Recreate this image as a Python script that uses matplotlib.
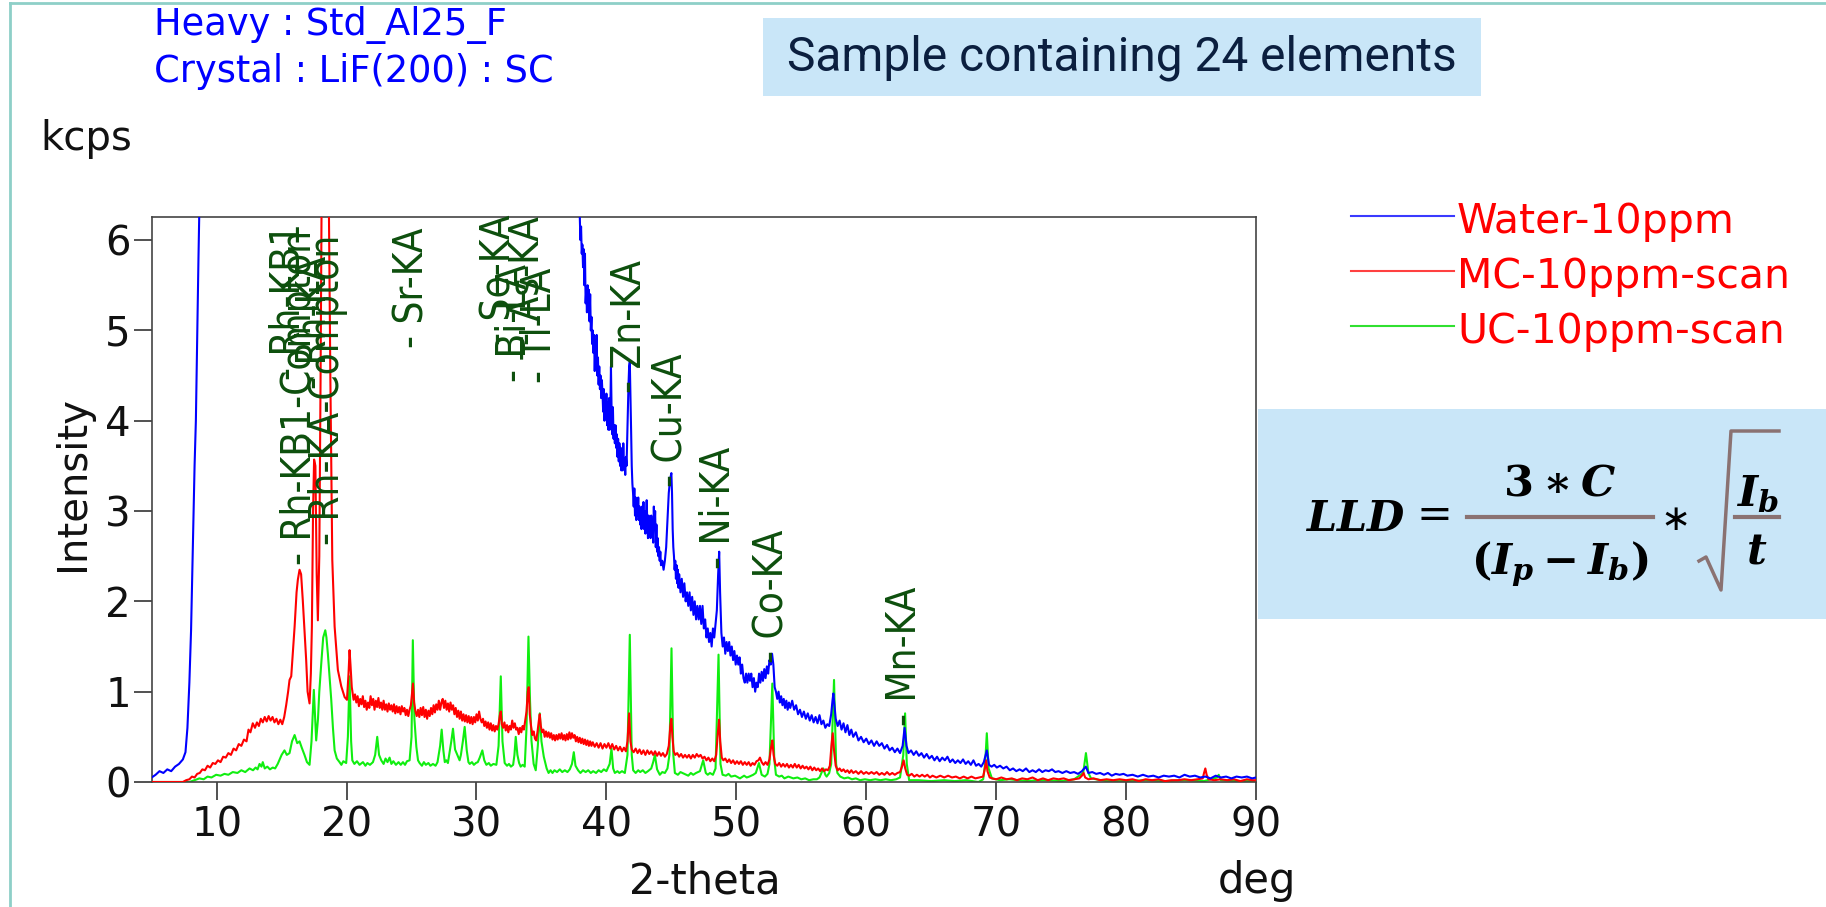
import matplotlib
matplotlib.use("Agg")
import matplotlib.pyplot as plt
from matplotlib.lines import Line2D
from matplotlib.patches import Rectangle

# ---------------- data (2-theta in deg, intensity in kcps) ----------------
series_names = ["Water-10ppm", "MC-10ppm-scan", "UC-10ppm-scan"]

blue_pts = [
    (5.0, 0.05), (5.3, 0.08), (5.6, 0.12), (5.9, 0.10), (6.2, 0.14), (6.5, 0.12), (6.8, 0.17), (7.1, 0.20),
    (7.4, 0.25), (7.6, 0.33), (7.75, 0.60), (7.9, 1.10), (8.03, 1.68), (8.15, 2.50), (8.3, 3.50), (8.4, 4.00),
    (8.5, 4.90), (8.6, 5.80), (8.7, 6.60), (8.9, 8.0), (12.0, 9.0), (30.0, 9.0), (37.5, 7.0),
    (37.95, 6.26), (38.0, 6.0), (38.05, 6.15), (38.1, 5.85), (38.15, 5.95), (38.2, 5.7), (38.25, 5.9),
    (38.3, 5.5), (38.35, 5.85), (38.4, 5.3), (38.45, 5.45), (38.5, 5.2), (38.55, 5.5), (38.6, 5.35),
    (38.65, 5.45), (38.7, 5.1), (38.75, 5.4), (38.8, 5.0), (38.85, 5.15), (38.9, 4.85), (38.95, 5.0),
    (39.0, 4.75), (39.05, 4.95), (39.1, 4.55), (39.15, 4.85), (39.2, 4.7), (39.25, 4.95), (39.3, 4.5),
    (39.35, 4.7), (39.4, 4.4), (39.45, 4.6), (39.5, 4.35), (39.55, 4.5), (39.6, 4.25), (39.65, 4.45),
    (39.7, 4.3), (39.75, 4.1), (39.8, 4.35), (39.85, 4.0), (39.9, 4.2), (39.95, 4.05), (40.0, 4.3),
    (40.05, 3.95), (40.1, 4.2), (40.15, 3.9), (40.2, 4.25), (40.25, 3.9), (40.3, 4.1), (40.35, 4.6),
    (40.4, 4.1), (40.45, 3.85), (40.5, 4.15), (40.55, 3.8), (40.6, 3.95), (40.65, 3.75), (40.7, 3.95),
    (40.75, 3.7), (40.8, 3.85), (40.85, 3.6), (40.9, 3.8), (40.95, 3.55), (41.0, 3.75), (41.05, 3.5),
    (41.1, 3.7), (41.15, 3.45), (41.2, 3.6), (41.25, 3.45), (41.3, 3.75), (41.35, 3.5), (41.4, 3.55),
    (41.45, 3.4), (41.5, 3.6), (41.55, 3.5), (41.6, 3.8), (41.65, 4.1), (41.7, 4.4), (41.75, 4.6),
    (41.8, 4.65), (41.85, 4.3), (41.9, 3.9), (41.95, 3.5), (42.0, 3.3), (42.05, 3.2), (42.1, 3.05),
    (42.15, 3.25), (42.2, 2.95), (42.25, 3.15), (42.3, 2.9), (42.35, 3.1), (42.4, 2.95), (42.45, 3.15),
    (42.5, 2.9), (42.55, 3.05), (42.6, 2.85), (42.65, 3.0), (42.7, 2.8), (42.75, 3.05), (42.8, 2.85),
    (42.85, 3.1), (42.9, 2.8), (42.95, 3.0), (43.0, 2.75), (43.05, 2.95), (43.1, 3.12), (43.15, 2.85),
    (43.2, 2.7), (43.25, 2.95), (43.3, 2.75), (43.35, 2.9), (43.4, 2.7), (43.45, 2.95), (43.5, 2.75),
    (43.55, 2.9), (43.6, 2.65), (43.65, 3.05), (43.7, 2.8), (43.75, 3.0), (43.8, 2.6), (43.85, 2.85),
    (43.9, 2.55), (43.95, 2.7), (44.0, 2.5), (44.05, 2.6), (44.1, 2.45), (44.15, 2.55), (44.2, 2.4),
    (44.3, 2.45), (44.4, 2.35), (44.5, 2.45), (44.6, 2.6), (44.7, 2.9), (44.8, 3.2), (44.9, 3.35),
    (45.0, 3.42), (45.05, 3.2), (45.1, 2.8), (45.15, 2.6), (45.2, 2.5), (45.25, 2.35), (45.3, 2.45),
    (45.35, 2.25), (45.4, 2.4), (45.45, 2.2), (45.5, 2.35), (45.55, 2.15), (45.6, 2.3), (45.7, 2.1),
    (45.8, 2.25), (45.9, 2.05), (46.0, 2.2), (46.1, 2.0), (46.2, 2.1), (46.3, 1.95), (46.4, 2.1),
    (46.5, 1.9), (46.6, 2.05), (46.7, 1.85), (46.8, 2.0), (46.9, 1.8), (47.0, 1.95), (47.1, 1.8),
    (47.2, 1.95), (47.3, 1.75), (47.4, 1.95), (47.5, 1.7), (47.6, 1.8), (47.7, 1.6), (47.8, 1.7),
    (47.9, 1.55), (48.0, 1.65), (48.1, 1.5), (48.2, 1.7), (48.3, 1.6), (48.4, 1.75), (48.5, 1.9),
    (48.6, 2.3), (48.68, 2.55), (48.75, 2.1), (48.85, 1.65), (48.95, 1.5), (49.05, 1.6), (49.15, 1.42),
    (49.25, 1.55), (49.35, 1.45), (49.45, 1.55), (49.55, 1.4), (49.65, 1.5), (49.75, 1.35), (49.85, 1.45),
    (49.95, 1.3), (50.05, 1.4), (50.15, 1.3), (50.25, 1.38), (50.35, 1.2), (50.45, 1.3), (50.55, 1.15),
    (50.65, 1.1), (50.75, 1.2), (50.85, 1.1), (50.95, 1.2), (51.05, 1.12), (51.15, 1.2), (51.25, 1.05),
    (51.35, 1.15), (51.45, 1.0), (51.55, 1.1), (51.65, 1.05), (51.75, 1.2), (51.85, 1.1), (51.95, 1.22),
    (52.05, 1.12), (52.15, 1.25), (52.25, 1.15), (52.35, 1.28), (52.45, 1.2), (52.55, 1.35), (52.65, 1.3),
    (52.75, 1.42), (52.85, 1.3), (52.95, 1.05), (53.05, 1.0), (53.15, 0.92), (53.25, 1.0), (53.35, 0.88),
    (53.45, 0.95), (53.55, 0.85), (53.65, 0.92), (53.75, 0.82), (53.85, 0.9), (53.95, 0.8), (54.05, 0.88),
    (54.15, 0.82), (54.3, 0.9), (54.45, 0.8), (54.6, 0.85), (54.75, 0.75), (54.9, 0.8), (55.05, 0.72),
    (55.2, 0.78), (55.35, 0.7), (55.5, 0.76), (55.65, 0.68), (55.8, 0.74), (55.95, 0.66), (56.1, 0.72),
    (56.25, 0.65), (56.4, 0.74), (56.55, 0.64), (56.7, 0.68), (56.85, 0.6), (57.0, 0.64), (57.15, 0.62),
    (57.3, 0.75), (57.4, 0.9), (57.47, 0.98), (57.55, 0.85), (57.65, 0.7), (57.8, 0.62), (57.95, 0.68),
    (58.1, 0.58), (58.25, 0.65), (58.4, 0.55), (58.55, 0.63), (58.7, 0.52), (58.85, 0.58), (59.0, 0.5),
    (59.2, 0.55), (59.4, 0.46), (59.6, 0.5), (59.8, 0.44), (60.0, 0.48), (60.2, 0.42), (60.4, 0.46),
    (60.6, 0.4), (60.8, 0.45), (61.0, 0.4), (61.2, 0.43), (61.4, 0.37), (61.6, 0.41), (61.8, 0.35),
    (62.0, 0.38), (62.2, 0.33), (62.4, 0.37), (62.6, 0.32), (62.8, 0.4), (62.95, 0.6), (63.1, 0.4),
    (63.25, 0.32), (63.45, 0.35), (63.65, 0.3), (63.85, 0.34), (64.05, 0.29), (64.25, 0.32), (64.45, 0.27),
    (64.65, 0.31), (64.85, 0.26), (65.05, 0.29), (65.25, 0.24), (65.45, 0.28), (65.65, 0.23), (65.85, 0.27),
    (66.05, 0.24), (66.25, 0.28), (66.45, 0.22), (66.65, 0.25), (66.85, 0.21), (67.05, 0.24), (67.25, 0.21),
    (67.45, 0.25), (67.65, 0.2), (67.85, 0.23), (68.05, 0.19), (68.25, 0.24), (68.45, 0.18), (68.65, 0.2),
    (68.85, 0.17), (69.05, 0.22), (69.28, 0.35), (69.45, 0.19), (69.65, 0.17), (69.85, 0.19), (70.05, 0.16),
    (70.3, 0.18), (70.55, 0.15), (70.8, 0.17), (71.05, 0.13), (71.3, 0.15), (71.55, 0.12), (71.8, 0.14),
    (72.05, 0.12), (72.3, 0.15), (72.55, 0.11), (72.8, 0.13), (73.05, 0.11), (73.3, 0.14), (73.55, 0.11),
    (73.8, 0.13), (74.05, 0.12), (74.3, 0.14), (74.55, 0.11), (74.8, 0.12), (75.1, 0.1), (75.4, 0.12),
    (75.7, 0.1), (76.0, 0.11), (76.3, 0.09), (76.6, 0.12), (76.9, 0.17), (77.1, 0.1), (77.4, 0.11),
    (77.7, 0.09), (78.0, 0.1), (78.3, 0.08), (78.6, 0.1), (78.9, 0.07), (79.2, 0.09), (79.5, 0.08),
    (79.8, 0.09), (80.1, 0.07), (80.5, 0.08), (80.9, 0.06), (81.3, 0.08), (81.7, 0.06), (82.1, 0.07),
    (82.5, 0.05), (82.9, 0.07), (83.3, 0.06), (83.7, 0.07), (84.1, 0.05), (84.5, 0.08), (84.9, 0.06),
    (85.3, 0.07), (85.7, 0.05), (86.1, 0.06), (86.5, 0.04), (86.9, 0.07), (87.3, 0.05), (87.7, 0.06),
    (88.1, 0.04), (88.5, 0.06), (88.9, 0.05), (89.3, 0.06), (89.7, 0.04), (90.0, 0.05)]

red_pts = [
    (5.0, 0.0), (7.4, 0.0), (7.65, 0.02), (7.9, 0.03), (8.1, 0.06), (8.3, 0.05), (8.5, 0.09), (8.7, 0.10),
    (8.9, 0.14), (9.1, 0.13), (9.3, 0.18), (9.5, 0.16), (9.7, 0.21), (9.9, 0.20), (10.1, 0.24), (10.3, 0.22),
    (10.5, 0.28), (10.7, 0.27), (10.9, 0.32), (11.1, 0.30), (11.3, 0.37), (11.5, 0.35), (11.7, 0.42),
    (11.9, 0.40), (12.1, 0.47), (12.3, 0.45), (12.45, 0.58), (12.6, 0.55), (12.78, 0.65), (12.95, 0.60),
    (13.1, 0.66), (13.25, 0.62), (13.4, 0.70), (13.55, 0.66), (13.7, 0.72), (13.85, 0.67), (14.0, 0.73),
    (14.15, 0.68), (14.3, 0.72), (14.45, 0.66), (14.6, 0.70), (14.75, 0.64), (14.9, 0.69), (15.05, 0.64),
    (15.2, 0.72), (15.35, 0.85), (15.5, 1.0), (15.61, 1.13), (15.74, 1.17), (15.9, 1.5), (16.0, 1.72),
    (16.15, 2.1), (16.25, 2.24), (16.38, 2.35), (16.5, 2.3), (16.63, 2.01), (16.75, 1.7), (16.89, 1.35),
    (17.0, 1.0), (17.15, 0.87), (17.25, 1.2), (17.33, 1.72), (17.42, 3.0), (17.5, 3.57), (17.6, 3.5),
    (17.7, 2.3), (17.79, 1.79), (17.9, 2.5), (18.0, 4.5), (18.1, 7.0), (18.6, 7.0), (18.75, 4.5),
    (18.9, 2.46), (19.08, 1.72), (19.33, 1.24), (19.59, 1.06), (19.85, 0.94), (20.03, 0.91), (20.15, 1.2),
    (20.23, 1.46), (20.3, 1.3), (20.4, 1.05), (20.54, 0.91), (20.65, 0.97), (20.75, 0.88), (20.85, 0.95),
    (20.95, 0.84), (21.05, 0.92), (21.15, 0.86), (21.25, 0.95), (21.35, 0.83), (21.45, 0.9), (21.55, 0.8),
    (21.65, 0.88), (21.75, 0.82), (21.85, 0.95), (21.95, 0.85), (22.05, 0.92), (22.15, 0.8), (22.25, 0.9),
    (22.35, 0.83), (22.45, 0.93), (22.55, 0.82), (22.65, 0.88), (22.75, 0.8), (22.85, 0.9), (22.95, 0.8),
    (23.05, 0.86), (23.15, 0.78), (23.25, 0.87), (23.35, 0.8), (23.45, 0.85), (23.55, 0.78), (23.65, 0.86),
    (23.75, 0.76), (23.85, 0.84), (23.95, 0.77), (24.05, 0.83), (24.15, 0.75), (24.25, 0.84), (24.35, 0.78),
    (24.45, 0.82), (24.55, 0.74), (24.65, 0.8), (24.75, 0.73), (24.85, 0.8), (24.95, 0.85), (25.05, 1.0),
    (25.11, 1.09), (25.2, 0.88), (25.3, 0.78), (25.4, 0.73), (25.5, 0.8), (25.6, 0.72), (25.7, 0.82),
    (25.8, 0.74), (25.9, 0.83), (26.0, 0.72), (26.1, 0.8), (26.2, 0.7), (26.3, 0.79), (26.4, 0.73),
    (26.5, 0.82), (26.6, 0.75), (26.7, 0.85), (26.8, 0.77), (26.9, 0.86), (27.0, 0.8), (27.1, 0.9),
    (27.2, 0.8), (27.3, 0.88), (27.4, 0.92), (27.5, 0.82), (27.6, 0.9), (27.7, 0.8), (27.8, 0.87),
    (27.9, 0.78), (28.0, 0.88), (28.1, 0.8), (28.2, 0.85), (28.3, 0.75), (28.4, 0.82), (28.5, 0.72),
    (28.6, 0.79), (28.7, 0.7), (28.8, 0.78), (28.9, 0.68), (29.0, 0.75), (29.1, 0.67), (29.2, 0.74),
    (29.3, 0.66), (29.4, 0.73), (29.5, 0.65), (29.6, 0.72), (29.7, 0.64), (29.8, 0.72), (29.9, 0.66),
    (30.0, 0.75), (30.1, 0.68), (30.2, 0.78), (30.3, 0.7), (30.4, 0.66), (30.5, 0.7), (30.6, 0.62),
    (30.7, 0.67), (30.8, 0.6), (30.9, 0.66), (31.0, 0.58), (31.1, 0.65), (31.2, 0.57), (31.3, 0.63),
    (31.4, 0.56), (31.5, 0.62), (31.6, 0.58), (31.7, 0.64), (31.8, 0.74), (31.87, 0.78), (31.95, 0.64),
    (32.05, 0.6), (32.15, 0.66), (32.25, 0.57), (32.35, 0.63), (32.45, 0.55), (32.55, 0.62), (32.65, 0.58),
    (32.75, 0.68), (32.85, 0.6), (32.95, 0.65), (33.05, 0.58), (33.15, 0.6), (33.25, 0.53), (33.35, 0.6),
    (33.45, 0.55), (33.55, 0.62), (33.65, 0.58), (33.75, 0.68), (33.85, 0.78), (33.95, 1.0), (34.02, 1.05),
    (34.1, 0.75), (34.2, 0.62), (34.3, 0.52), (34.4, 0.56), (34.5, 0.48), (34.6, 0.46), (34.7, 0.56),
    (34.8, 0.68), (34.87, 0.75), (34.95, 0.62), (35.05, 0.55), (35.15, 0.58), (35.25, 0.5), (35.35, 0.56),
    (35.45, 0.5), (35.55, 0.55), (35.65, 0.49), (35.75, 0.54), (35.85, 0.47), (35.95, 0.52), (36.05, 0.46),
    (36.15, 0.52), (36.25, 0.47), (36.35, 0.53), (36.45, 0.48), (36.55, 0.54), (36.65, 0.47), (36.75, 0.52),
    (36.85, 0.46), (36.95, 0.53), (37.05, 0.47), (37.15, 0.55), (37.25, 0.48), (37.35, 0.54), (37.45, 0.49),
    (37.55, 0.52), (37.65, 0.45), (37.75, 0.5), (37.85, 0.44), (37.95, 0.49), (38.05, 0.43), (38.15, 0.48),
    (38.25, 0.42), (38.35, 0.47), (38.45, 0.41), (38.55, 0.46), (38.65, 0.4), (38.75, 0.45), (38.85, 0.4),
    (38.95, 0.44), (39.1, 0.39), (39.25, 0.43), (39.4, 0.38), (39.55, 0.43), (39.7, 0.37), (39.85, 0.42),
    (40.0, 0.38), (40.15, 0.43), (40.3, 0.37), (40.45, 0.42), (40.6, 0.36), (40.75, 0.4), (40.9, 0.35),
    (41.05, 0.39), (41.2, 0.34), (41.35, 0.38), (41.5, 0.34), (41.62, 0.45), (41.75, 0.76), (41.85, 0.45),
    (41.95, 0.36), (42.1, 0.33), (42.25, 0.37), (42.4, 0.32), (42.55, 0.36), (42.7, 0.31), (42.85, 0.35),
    (43.0, 0.3), (43.15, 0.35), (43.3, 0.31), (43.45, 0.34), (43.6, 0.3), (43.75, 0.34), (43.9, 0.29),
    (44.05, 0.33), (44.2, 0.29), (44.35, 0.32), (44.5, 0.28), (44.65, 0.31), (44.8, 0.4), (44.92, 0.62),
    (45.0, 0.7), (45.08, 0.5), (45.18, 0.34), (45.3, 0.3), (45.45, 0.32), (45.6, 0.28), (45.75, 0.31),
    (45.9, 0.27), (46.05, 0.3), (46.2, 0.27), (46.35, 0.3), (46.5, 0.26), (46.65, 0.3), (46.8, 0.27),
    (46.95, 0.31), (47.1, 0.28), (47.25, 0.3), (47.4, 0.26), (47.55, 0.28), (47.7, 0.24), (47.85, 0.27),
    (48.0, 0.23), (48.15, 0.26), (48.3, 0.23), (48.45, 0.3), (48.58, 0.55), (48.67, 0.69), (48.76, 0.45),
    (48.88, 0.27), (49.0, 0.24), (49.15, 0.26), (49.3, 0.22), (49.45, 0.25), (49.6, 0.21), (49.75, 0.24),
    (49.9, 0.2), (50.05, 0.23), (50.2, 0.2), (50.35, 0.23), (50.5, 0.19), (50.65, 0.22), (50.8, 0.19),
    (50.95, 0.22), (51.1, 0.18), (51.25, 0.21), (51.4, 0.19), (51.55, 0.23), (51.7, 0.24), (51.82, 0.27),
    (51.95, 0.22), (52.1, 0.19), (52.25, 0.22), (52.4, 0.19), (52.55, 0.25), (52.67, 0.38), (52.77, 0.46),
    (52.87, 0.3), (53.0, 0.2), (53.15, 0.18), (53.3, 0.21), (53.45, 0.17), (53.6, 0.2), (53.75, 0.17),
    (53.9, 0.2), (54.05, 0.16), (54.2, 0.19), (54.35, 0.16), (54.5, 0.2), (54.65, 0.16), (54.8, 0.19),
    (54.95, 0.15), (55.1, 0.18), (55.25, 0.15), (55.4, 0.17), (55.55, 0.14), (55.7, 0.17), (55.85, 0.13),
    (56.0, 0.16), (56.15, 0.13), (56.3, 0.15), (56.45, 0.12), (56.6, 0.15), (56.75, 0.12), (56.9, 0.14),
    (57.05, 0.13), (57.2, 0.18), (57.32, 0.4), (57.42, 0.54), (57.52, 0.35), (57.65, 0.18), (57.8, 0.13),
    (57.95, 0.15), (58.1, 0.12), (58.25, 0.14), (58.4, 0.11), (58.55, 0.13), (58.7, 0.1), (58.85, 0.13),
    (59.0, 0.1), (59.2, 0.12), (59.4, 0.09), (59.6, 0.12), (59.8, 0.09), (60.0, 0.11), (60.2, 0.09),
    (60.4, 0.11), (60.6, 0.09), (60.8, 0.11), (61.0, 0.08), (61.2, 0.1), (61.4, 0.08), (61.6, 0.11),
    (61.8, 0.08), (62.0, 0.1), (62.2, 0.08), (62.4, 0.1), (62.6, 0.11), (62.75, 0.17), (62.88, 0.24),
    (63.0, 0.15), (63.15, 0.08), (63.3, 0.07), (63.5, 0.09), (63.7, 0.06), (63.9, 0.08), (64.1, 0.06),
    (64.3, 0.08), (64.5, 0.06), (64.7, 0.08), (64.9, 0.05), (65.1, 0.07), (65.4, 0.05), (65.7, 0.07),
    (66.0, 0.05), (66.3, 0.07), (66.6, 0.05), (66.9, 0.06), (67.2, 0.04), (67.5, 0.06), (67.8, 0.04),
    (68.1, 0.06), (68.4, 0.04), (68.7, 0.05), (69.0, 0.06), (69.13, 0.15), (69.23, 0.24), (69.33, 0.12),
    (69.5, 0.05), (69.7, 0.04), (70.0, 0.03), (70.4, 0.05), (70.8, 0.03), (71.2, 0.04), (71.6, 0.02),
    (72.0, 0.04), (72.4, 0.03), (72.8, 0.05), (73.2, 0.02), (73.6, 0.04), (74.0, 0.02), (74.4, 0.04),
    (74.8, 0.03), (75.2, 0.04), (75.6, 0.02), (76.0, 0.03), (76.4, 0.04), (76.6, 0.07), (76.73, 0.1),
    (76.85, 0.05), (77.1, 0.03), (77.5, 0.04), (78.0, 0.02), (78.5, 0.03), (79.0, 0.02), (79.5, 0.03),
    (80.0, 0.02), (80.5, 0.03), (81.0, 0.01), (81.5, 0.03), (82.0, 0.02), (82.5, 0.03), (83.0, 0.01),
    (83.5, 0.02), (84.0, 0.02), (84.5, 0.03), (85.0, 0.02), (85.5, 0.03), (85.9, 0.04), (86.0, 0.1),
    (86.1, 0.15), (86.2, 0.08), (86.35, 0.03), (86.8, 0.02), (87.3, 0.03), (87.8, 0.02), (88.3, 0.03),
    (88.8, 0.01), (89.3, 0.03), (89.7, 0.02), (90.0, 0.02)]

green_pts = [
    (5.0, 0.0), (7.9, 0.0), (8.3, 0.02), (8.67, 0.04), (9.0, 0.03), (9.3, 0.06), (9.6, 0.05), (9.96, 0.08),
    (10.3, 0.07), (10.6, 0.09), (10.9, 0.08), (11.24, 0.11), (11.6, 0.10), (11.9, 0.13), (12.2, 0.11),
    (12.53, 0.15), (12.8, 0.13), (13.0, 0.16), (13.15, 0.14), (13.3, 0.20), (13.45, 0.17), (13.55, 0.22),
    (13.7, 0.15), (13.9, 0.17), (14.1, 0.14), (14.32, 0.16), (14.5, 0.15), (14.7, 0.20), (14.85, 0.25),
    (15.0, 0.30), (15.22, 0.35), (15.4, 0.30), (15.61, 0.32), (15.8, 0.45), (16.0, 0.52), (16.2, 0.43),
    (16.38, 0.45), (16.55, 0.38), (16.76, 0.30), (16.95, 0.22), (17.15, 0.19), (17.3, 0.45), (17.48, 1.02),
    (17.58, 0.70), (17.66, 0.46), (17.8, 0.70), (17.9, 1.0), (18.05, 1.31), (18.2, 1.60), (18.36, 1.68),
    (18.45, 1.60), (18.56, 1.42), (18.7, 1.15), (18.82, 0.91), (18.95, 0.60), (19.08, 0.35), (19.25, 0.26),
    (19.46, 0.22), (19.6, 0.19), (19.75, 0.23), (19.97, 0.21), (20.1, 0.50), (20.23, 1.17), (20.35, 0.45),
    (20.44, 0.24), (20.6, 0.20), (20.8, 0.23), (21.0, 0.19), (21.26, 0.22), (21.45, 0.18), (21.6, 0.21),
    (21.8, 0.19), (22.03, 0.22), (22.2, 0.30), (22.36, 0.50), (22.5, 0.30), (22.67, 0.24), (22.85, 0.20),
    (23.0, 0.26), (23.15, 0.22), (23.31, 0.27), (23.45, 0.20), (23.6, 0.23), (23.8, 0.19), (24.0, 0.22),
    (24.17, 0.19), (24.34, 0.22), (24.5, 0.19), (24.65, 0.23), (24.85, 0.24), (25.0, 0.50), (25.1, 1.57),
    (25.22, 0.70), (25.37, 0.39), (25.5, 0.24), (25.62, 0.21), (25.8, 0.18), (25.95, 0.22), (26.1, 0.19),
    (26.3, 0.21), (26.45, 0.18), (26.65, 0.20), (26.85, 0.18), (27.0, 0.22), (27.2, 0.40), (27.32, 0.58),
    (27.45, 0.35), (27.56, 0.22), (27.68, 0.24), (27.8, 0.21), (27.9, 0.30), (28.06, 0.45), (28.19, 0.59),
    (28.35, 0.36), (28.58, 0.28), (28.7, 0.24), (28.8, 0.30), (28.95, 0.45), (29.09, 0.61), (29.25, 0.35),
    (29.38, 0.22), (29.48, 0.20), (29.65, 0.22), (29.8, 0.19), (29.95, 0.21), (30.1, 0.22), (30.25, 0.27),
    (30.45, 0.35), (30.6, 0.24), (30.76, 0.19), (30.95, 0.21), (31.1, 0.18), (31.3, 0.20), (31.53, 0.19),
    (31.7, 0.40), (31.87, 1.17), (32.0, 0.45), (32.17, 0.21), (32.35, 0.18), (32.5, 0.20), (32.65, 0.17),
    (32.82, 0.19), (32.92, 0.30), (33.02, 0.50), (33.15, 0.30), (33.28, 0.21), (33.4, 0.17), (33.55, 0.19),
    (33.71, 0.17), (33.85, 0.60), (34.0, 1.61), (34.12, 0.90), (34.23, 0.46), (34.4, 0.20), (34.56, 0.13),
    (34.72, 0.40), (34.87, 0.76), (35.0, 0.45), (35.18, 0.28), (35.4, 0.15), (35.55, 0.10), (35.7, 0.13),
    (35.85, 0.10), (36.0, 0.13), (36.2, 0.11), (36.41, 0.14), (36.6, 0.11), (36.8, 0.13), (37.0, 0.11),
    (37.18, 0.14), (37.35, 0.20), (37.49, 0.33), (37.62, 0.18), (37.82, 0.13), (38.0, 0.10), (38.2, 0.13),
    (38.4, 0.11), (38.6, 0.13), (38.8, 0.10), (38.98, 0.12), (39.2, 0.10), (39.4, 0.13), (39.6, 0.11),
    (39.8, 0.14), (40.0, 0.12), (40.25, 0.20), (40.39, 0.37), (40.52, 0.15), (40.65, 0.10), (40.85, 0.12),
    (41.0, 0.10), (41.2, 0.12), (41.42, 0.10), (41.62, 0.30), (41.8, 1.63), (41.95, 0.30), (42.06, 0.13),
    (42.25, 0.10), (42.45, 0.13), (42.6, 0.11), (42.8, 0.13), (43.0, 0.10), (43.2, 0.12), (43.45, 0.15),
    (43.6, 0.22), (43.73, 0.30), (43.9, 0.14), (44.11, 0.08), (44.3, 0.11), (44.5, 0.10), (44.7, 0.15),
    (44.85, 0.30), (45.01, 1.48), (45.15, 0.30), (45.27, 0.10), (45.5, 0.08), (45.7, 0.11), (46.0, 0.09),
    (46.3, 0.07), (46.5, 0.10), (46.68, 0.08), (46.9, 0.10), (47.2, 0.12), (47.45, 0.24), (47.65, 0.10),
    (47.8, 0.08), (47.97, 0.10), (48.2, 0.08), (48.4, 0.15), (48.63, 1.41), (48.78, 0.20), (48.94, 0.08),
    (49.2, 0.07), (49.4, 0.09), (49.6, 0.06), (49.9, 0.07), (50.28, 0.04), (50.6, 0.07), (50.8, 0.05),
    (51.0, 0.06), (51.3, 0.08), (51.5, 0.10), (51.74, 0.21), (51.95, 0.08), (52.2, 0.06), (52.4, 0.09),
    (52.55, 0.20), (52.77, 1.09), (52.92, 0.25), (53.05, 0.08), (53.3, 0.06), (53.5, 0.07), (53.7, 0.04),
    (54.0, 0.06), (54.39, 0.04), (54.7, 0.05), (55.0, 0.03), (55.3, 0.04), (55.6, 0.02), (55.93, 0.03),
    (56.2, 0.03), (56.4, 0.05), (56.55, 0.10), (56.7, 0.15), (56.85, 0.08), (56.95, 0.06), (57.15, 0.10),
    (57.3, 0.20), (57.52, 1.13), (57.68, 0.20), (57.78, 0.10), (58.0, 0.06), (58.3, 0.04), (58.6, 0.05),
    (58.9, 0.03), (59.2, 0.04), (59.52, 0.02), (59.9, 0.03), (60.3, 0.02), (60.7, 0.03), (61.1, 0.02),
    (61.5, 0.03), (61.9, 0.02), (62.3, 0.03), (62.6, 0.05), (62.85, 0.30), (62.99, 0.76), (63.12, 0.20),
    (63.3, 0.02), (64.0, 0.02), (65.0, 0.01), (66.0, 0.02), (66.8, 0.01), (67.7, 0.02), (68.64, 0.0),
    (69.0, 0.03), (69.15, 0.20), (69.28, 0.54), (69.42, 0.15), (69.67, 0.04), (70.3, 0.02), (71.0, 0.03),
    (72.4, 0.01), (73.2, 0.02), (74.0, 0.02), (75.0, 0.01), (76.0, 0.03), (76.7, 0.10), (76.91, 0.32),
    (77.1, 0.10), (77.3, 0.04), (78.5, 0.01), (80.0, 0.01), (81.5, 0.02), (83.0, 0.01), (84.5, 0.02),
    (86.0, 0.01), (87.0, 0.05), (87.13, 0.08), (87.3, 0.02), (88.5, 0.01), (90.0, 0.01)]

blue_x, blue_y = zip(*blue_pts)
red_x, red_y = zip(*red_pts)
green_x, green_y = zip(*green_pts)

peak_labels = ["Rh-KB1", "Rh-KB1-Compton", "Rh-KA", "Rh-KA-Compton", "Sr-KA", "Se-KA", "Bi-LA",
               "As-KA", "Tl-LA", "Zn-KA", "Cu-KA", "Ni-KA", "Co-KA", "Mn-KA"]
peak_x = [15.55, 16.45, 17.55, 18.55, 25.1, 31.8, 33.0, 33.95, 34.9, 41.8, 45.0, 48.65, 52.8, 62.95]
peak_label_y = [4.45, 2.40, 4.35, 2.62, 4.80, 4.84, 4.43, 4.84, 4.42, 4.31, 3.27, 2.36, 1.32, 0.62]

x_ticks = [10, 20, 30, 40, 50, 60, 70, 80, 90]
y_ticks = [0, 1, 2, 3, 4, 5, 6]

# ---------------- figure ----------------
W, H = 1826, 907
fig = plt.figure(figsize=(W / 100, H / 100), dpi=100)


def fx(px):
    return px / W


def fy(py):
    return 1 - py / H


ax_l, ax_r, ax_t, ax_b = 151.7, 1256.0, 216.6, 782.0
ax = fig.add_axes([fx(ax_l), fy(ax_b), (ax_r - ax_l) / W, (ax_b - ax_t) / H])

ax.plot(green_x, green_y, color="#10ee10", lw=1.5, zorder=2)
ax.plot(red_x, red_y, color="#ff0000", lw=1.5, zorder=3)
ax.plot(blue_x, blue_y, color="#0000ff", lw=1.5, zorder=4)

ax.set_xlim(5, 90)
ax.set_ylim(0, 6.26)
ax.set_xticks(x_ticks)
ax.set_yticks(y_ticks)
for lab in ax.get_xticklabels() + ax.get_yticklabels():
    lab.set_fontfamily("DejaVu Sans")
ax.tick_params(axis="both", direction="out", length=13, width=1.2, colors="#333333",
               labelsize=29, labelcolor="#111111")
ax.tick_params(axis="y", pad=2)
ax.tick_params(axis="x", pad=4)
for s in ax.spines.values():
    s.set_color("#444444")
    s.set_linewidth(1.2)

lab_color = "#0d4f0d"
for name, px, py in zip(peak_labels, peak_x, peak_label_y):
    ax.text(px, py, "- " + name, rotation=90, ha="center", va="bottom", fontsize=29,
            color=lab_color, family="DejaVu Sans", fontstretch="condensed", zorder=5)

# axis labels
txt_c = "#111111"
fig.text(fx(73), fy(483), "Intensity", rotation=90, ha="center", va="center",
         fontsize=29, color=txt_c, family="DejaVu Sans")
fig.text(fx(40), fy(150), "kcps", ha="left", va="baseline", fontsize=29, color=txt_c,
         family="DejaVu Sans")
fig.text(fx(705), fy(893), "2-theta", ha="center", va="baseline", fontsize=30, color=txt_c,
         family="DejaVu Sans")
fig.text(fx(1257), fy(893), "deg", ha="center", va="baseline", fontsize=30, color=txt_c,
         family="DejaVu Sans")

# header
fig.text(fx(154), fy(35), "Heavy : Std_Al25_F", ha="left", va="baseline", fontsize=26.5,
         color="#0000ff", family="DejaVu Sans")
fig.text(fx(154), fy(82), "Crystal : LiF(200) : SC", ha="left", va="baseline", fontsize=26.5,
         color="#0000ff", family="DejaVu Sans")

# title box
fig.patches.append(Rectangle((fx(763), fy(96)), (1481 - 763) / W, (96 - 18) / H,
                             transform=fig.transFigure, facecolor="#c9e6f8", edgecolor="none", zorder=0))
fig.text(fx(1122), fy(58), "Sample containing 24 elements", ha="center", va="center",
         fontsize=34.5, color="#0b1f3f", family="Roboto")

# legend
leg_colors = ["#3a3aff", "#ff4040", "#30e030"]
leg_y = [216, 271, 326]
for name, c, ly in zip(series_names, leg_colors, leg_y):
    fig.add_artist(Line2D([fx(1351), fx(1454)], [fy(ly), fy(ly)], color=c, lw=1.5,
                          transform=fig.transFigure))
    fig.text(fx(1457), fy(ly + 6), name, ha="left", va="center", fontsize=29.5, color="#ff0000",
             family="DejaVu Sans")

# formula box
fig.patches.append(Rectangle((fx(1258), fy(619)), (W - 1258) / W, (619 - 409) / H,
                             transform=fig.transFigure, facecolor="#c9e6f8", edgecolor="none", zorder=0))
plt.rcParams["mathtext.fontset"] = "custom"
plt.rcParams["mathtext.it"] = "DejaVu Serif:italic:bold"
plt.rcParams["mathtext.rm"] = "DejaVu Serif:bold"
plt.rcParams["mathtext.bf"] = "DejaVu Serif:bold"
bar_c = "#8a7272"
fs_f = 31
fig.text(fx(1305), fy(531), r"$LLD$", ha="left", va="baseline", fontsize=fs_f, color="black")
fig.text(fx(1434), fy(515), "=", ha="center", va="center", fontsize=fs_f, color="black",
         family="DejaVu Sans")
fig.add_artist(Line2D([fx(1467), fx(1653)], [fy(517), fy(517)], color=bar_c, lw=3,
                      transform=fig.transFigure))
fig.text(fx(1560), fy(496), r"$3\ast C$", ha="center", va="baseline", fontsize=fs_f, color="black")
fig.text(fx(1560), fy(564), r"$(I_p - I_b)$", ha="center", va="center", fontsize=fs_f, color="black")
fig.text(fx(1676), fy(520), "∗", ha="center", va="center", fontsize=26, color="black",
         family="DejaVu Sans")
fig.add_artist(Line2D([fx(1699), fx(1706), fx(1721), fx(1731), fx(1779)],
                      [fy(561), fy(557), fy(590), fy(431), fy(431)], color=bar_c, lw=2.5,
                      transform=fig.transFigure))
fig.add_artist(Line2D([fx(1735), fx(1779)], [fy(517), fy(517)], color=bar_c, lw=3,
                      transform=fig.transFigure))
fig.text(fx(1757), fy(493), r"$I_b$", ha="center", va="center", fontsize=fs_f, color="black")
fig.text(fx(1757), fy(551), r"$t$", ha="center", va="center", fontsize=fs_f, color="black")

# slide frame
frame_c = "#8ecfc8"
fig.add_artist(Line2D([fx(10), fx(10)], [fy(3), 0], color=frame_c, lw=2, transform=fig.transFigure))
fig.add_artist(Line2D([fx(10), 1], [fy(3), fy(3)], color=frame_c, lw=2, transform=fig.transFigure))

fig.savefig("out.png", dpi=100)
